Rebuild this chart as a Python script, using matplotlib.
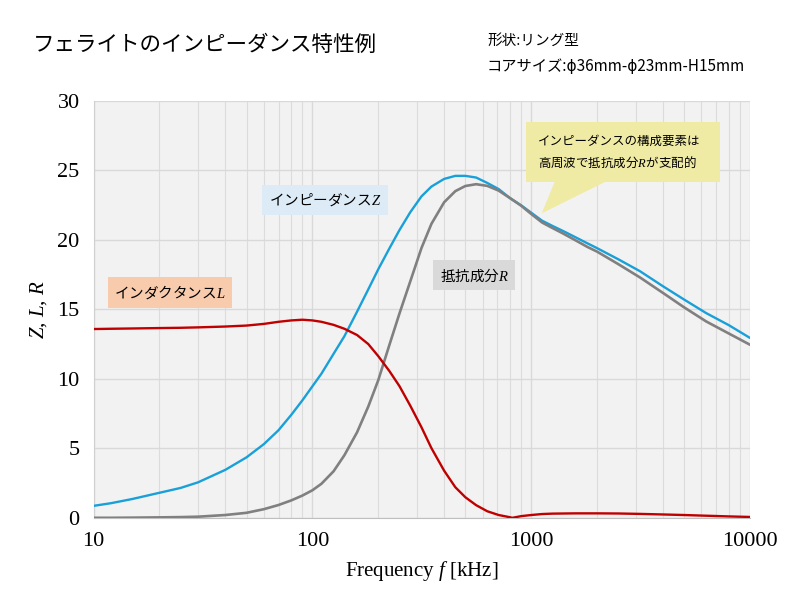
import matplotlib
matplotlib.use("Agg")
import matplotlib.pyplot as plt
from matplotlib.patches import Polygon, Rectangle
from matplotlib.ticker import LogLocator, FixedLocator, NullFormatter

plt.rcParams['font.family'] = ['Noto Sans CJK JP', 'DejaVu Sans']
plt.rcParams['mathtext.fontset'] = 'custom'
plt.rcParams['mathtext.it'] = 'Liberation Serif:italic'
plt.rcParams['mathtext.rm'] = 'Liberation Serif'

# ---- data ----
freq = [10, 12, 15, 20, 25, 30, 40, 50, 60, 70, 80, 90, 100, 110, 125, 140, 160,
        180, 200, 225, 250, 280, 315, 350, 400, 450, 500, 560, 630, 710, 800, 900,
        1000, 1120, 1250, 1400, 1600, 1800, 2000, 2500, 3150, 4000, 5000, 6300,
        8000, 10000]
Z = [0.86, 1.05, 1.35, 1.8, 2.15, 2.55, 3.45, 4.35, 5.3, 6.3, 7.4, 8.45, 9.46,
     10.37, 11.8, 13.06, 14.83, 16.43, 17.88, 19.39, 20.7, 21.98, 23.12, 23.83,
     24.38, 24.6, 24.6, 24.48, 24.09, 23.65, 23.0, 22.48, 21.95, 21.38, 21.0,
     20.63, 20.17, 19.76, 19.4, 18.6, 17.73, 16.66, 15.7, 14.73, 13.86, 12.94]
R = [0.0, 0.0, 0.01, 0.03, 0.05, 0.08, 0.2, 0.36, 0.62, 0.92, 1.25, 1.6, 1.98,
     2.45, 3.35, 4.5, 6.15, 8.0, 9.9, 12.45, 14.7, 17.0, 19.4, 21.15, 22.7,
     23.5, 23.87, 24.0, 23.88, 23.54, 23.0, 22.45, 21.86, 21.25, 20.85, 20.45,
     19.95, 19.5, 19.15, 18.25, 17.28, 16.18, 15.14, 14.13, 13.26, 12.45]
freq_L = [10, 12, 15, 20, 25, 30, 40, 50, 60, 70, 80, 90, 100, 110, 125, 140, 160,
          180, 200, 225, 250, 280, 315, 350, 400, 450, 500, 560, 630, 710, 800,
          820, 900, 1000, 1120, 1250, 1600, 2000, 2500, 3150, 4000, 5000, 6300,
          8000, 10000]
L = [13.58, 13.6, 13.62, 13.65, 13.67, 13.7, 13.76, 13.83, 13.95, 14.1, 14.2,
     14.25, 14.2, 14.1, 13.88, 13.6, 13.15, 12.5, 11.63, 10.55, 9.47, 8.07, 6.52,
     5.01, 3.39, 2.2, 1.48, 0.91, 0.47, 0.2, 0.04, 0.0, 0.12, 0.2, 0.27, 0.3,
     0.32, 0.32, 0.31, 0.28, 0.24, 0.2, 0.15, 0.1, 0.06]
xticks = [10, 100, 1000, 10000]
xticklabels = ["10", "100", "1000", "10000"]
yticks = [0, 5, 10, 15, 20, 25, 30]

fig = plt.figure(figsize=(8, 6), dpi=100)
ax = fig.add_axes([0.117, 0.137, 0.8205, 0.695])
ax.set_facecolor('#f2f2f2')
ax.set_xscale('log')
ax.set_xlim(10, 10000)
ax.set_ylim(0, 30)

ax.xaxis.set_major_locator(FixedLocator(xticks))
ax.xaxis.set_minor_locator(LogLocator(base=10, subs=range(2, 10)))
ax.xaxis.set_minor_formatter(NullFormatter())
ax.set_xticks(xticks)
ax.set_xticklabels(xticklabels)
ax.set_yticks(yticks)
ax.grid(True, which='major', color='#d9d9d9', lw=1.0)
ax.grid(True, which='minor', axis='x', color='#dcdcdc', lw=0.8)
ax.set_axisbelow(True)
ax.tick_params(which='both', length=0, pad=10)
for lab in ax.get_xticklabels() + ax.get_yticklabels():
    lab.set_fontfamily('Liberation Serif')
    lab.set_fontsize(16)
for s in ['top', 'right']:
    ax.spines[s].set_visible(False)
ax.spines['left'].set_color('#d0d0d0')
ax.spines['bottom'].set_color('#bfbfbf')

ax.plot(freq, Z, color='#1aa0d8', lw=1.7, zorder=3, solid_capstyle='round')
ax.plot(freq, R, color='#808080', lw=1.9, zorder=3, solid_capstyle='round')
ax.plot(freq_L, L, color='#c00000', lw=1.7, zorder=4, solid_capstyle='round')

ax.set_xlabel(r'Frequency $f$ [kHz]', fontfamily='Liberation Serif', fontsize=15, labelpad=6)
ax.set_ylabel(r'$Z$, $L$, $R$', fontfamily='Liberation Serif', fontsize=15, labelpad=6)

# labels with boxes
fig.text(0.4065, 0.667, r'インピーダンス$Z$', fontsize=10.5, ha='center', va='center',
         bbox=dict(boxstyle='square,pad=0.45', fc='#ddebf7', ec='none'))
fig.text(0.2125, 0.513, r'インダクタンス$L$', fontsize=10.5, ha='center', va='center',
         bbox=dict(boxstyle='square,pad=0.45', fc='#f8cbad', ec='none'))
fig.text(0.593, 0.542, r'抵抗成分$R$', fontsize=10.5, ha='center', va='center',
         bbox=dict(boxstyle='square,pad=0.45', fc='#d9d9d9', ec='none'))

# callout
W, H = 800.0, 600.0
box = Rectangle((525.7 / W, 1 - 181.7 / H), (720 - 525.7) / W, (181.7 - 122.3) / H,
                transform=fig.transFigure, fc='#f0eba4', ec='none', zorder=5)
tri = Polygon([(555 / W, 1 - 181 / H), (607 / W, 1 - 181 / H), (541.7 / W, 1 - 213.3 / H)],
              closed=True, transform=fig.transFigure, fc='#f0eba4', ec='none', zorder=5)
fig.patches.extend([box, tri])
fig.text(538 / W, 1 - 141 / H, 'インピーダンスの構成要素は', fontsize=9, va='center', zorder=6)
fig.text(538 / W, 1 - 162 / H, r'高周波で抵抗成分$R$が支配的', fontsize=9, va='center', zorder=6)

# titles
fig.text(33 / W, 1 - 45 / H, 'フェライトのインピーダンス特性例', fontsize=15.5, va='center')
fig.text(487 / W, 1 - 41 / H, '形状:リング型', fontsize=10.5, va='center')
fig.text(487 / W, 1 - 67 / H, 'コアサイズ:ϕ36mm-ϕ23mm-H15mm', fontsize=11, va='center')

fig.savefig('out.png', dpi=100)
